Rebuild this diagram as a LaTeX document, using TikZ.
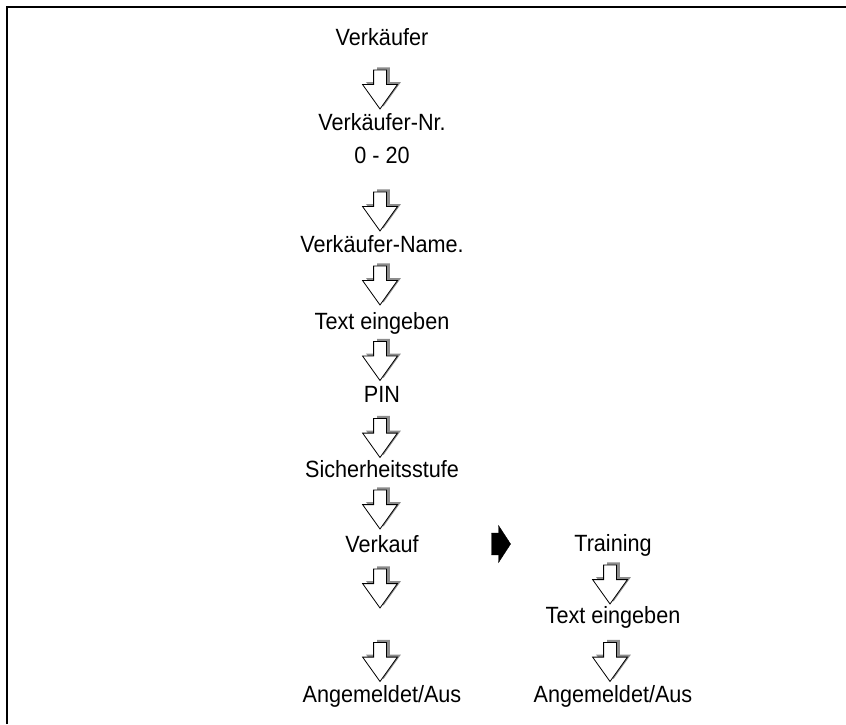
\documentclass[tikz,border=0pt]{standalone}
\usepackage{fontspec}
\setmainfont{Liberation Sans}[FakeStretch=0.92]
\usetikzlibrary{shapes.arrows,shadows}

\begin{document}
\begin{tikzpicture}[
  x=1pt, y=1pt,
  entry/.style={
    font=\fontsize{23.5}{28}\selectfont,
    inner sep=0pt,
    text height=17pt,
    text depth=5pt
  },
  downarr/.style={
    single arrow, draw=black, fill=white, line width=.8pt,
    shape border rotate=270, inner sep=6pt,
    minimum height=39pt, minimum width=34pt,
    single arrow tip angle=71, single arrow head extend=11pt,
    drop shadow={shadow xshift=3.5pt, shadow yshift=2.5pt, fill=black!45, opacity=1}
  },
  switcharr/.style={
    single arrow, draw=black, fill=black, line width=.4pt,
    inner sep=0pt, inner ysep=10pt,
    minimum height=19pt, minimum width=37pt,
    single arrow tip angle=114
  },
  frame/.style={line width=2.3pt}
]
\useasboundingbox (0,0) rectangle (846,-724);
\draw[frame] (6.7,-724) -- (6.7,-6.7) -- (846,-6.7);

% main column
\node[entry] (seller)   at (382,-39)  {Verkäufer};
\node[entry] (sellerno) at (382,-124) {Verkäufer-Nr.};
\node[entry] (range)    at (382,-157) {0 - 20};
\node[entry] (name)     at (382,-246) {Verkäufer-Name.};
\node[entry] (text1)    at (382,-323) {Text eingeben};
\node[entry] (pin)      at (382,-396) {PIN};
\node[entry] (level)    at (382,-471) {Sicherheitsstufe};
\node[entry] (sale)     at (382,-546) {Verkauf};
\node[entry] (login1)   at (382,-696) {Angemeldet/Aus};

\node[downarr] (a1) at (380,-85) {};
\node[downarr] (a2) at (380,-207) {};
\node[downarr] (a3) at (380,-281) {};
\node[downarr] (a4) at (380,-356.5) {};
\node[downarr] (a5) at (380,-433.5) {};
\node[downarr] (a6) at (380,-505) {};
\node[downarr] (a7) at (380,-584) {};
\node[downarr] (a8) at (380,-657.5) {};

% training branch
\node[switcharr] (switch) at (497.5,-544) {};
\node[entry] (training) at (613,-545) {Training};
\node[entry] (text2)    at (613,-617) {Text eingeben};
\node[entry] (login2)   at (613,-696) {Angemeldet/Aus};

\node[downarr] (b1) at (610,-580) {};
\node[downarr] (b2) at (610,-657.5) {};
\end{tikzpicture}
\end{document}
